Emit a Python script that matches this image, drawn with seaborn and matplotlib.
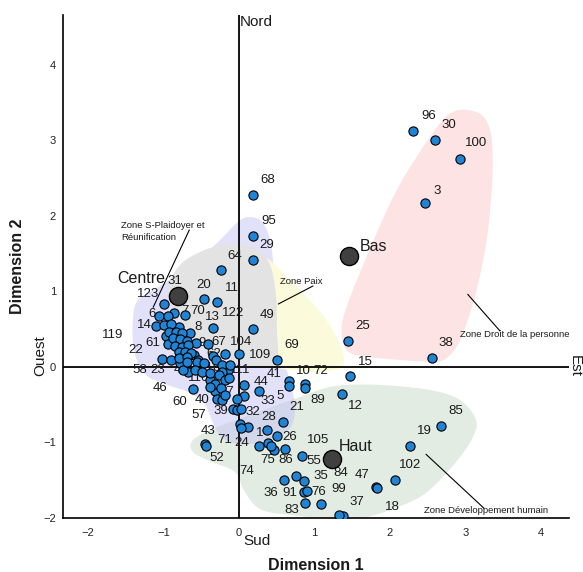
import numpy as np
import pandas as pd
import matplotlib
matplotlib.use("Agg")
import matplotlib.pyplot as plt
import seaborn as sns

# ---------------- data ----------------
point_ids = [96, 30, 100, 3, 25, 38, 15, 68, 95, 29, 64, 20, 11, 49, 122, 31, 123, 7, 70, 6,
             14, 8, 13, 119, 9, 67, 61, 104, 109, 22, 58, 62, 110, 23, 4, 46, 111, 116, 60, 40,
             27, 57, 44, 33, 39, 90, 32, 41, 10, 5, 72, 89, 12, 69, 21, 71, 1, 24, 28, 26,
             43, 52, 75, 74, 86, 105, 36, 55, 35, 91, 76, 83, 99, 37, 47, 18, 102, 19, 85, 84,
             2, 16, 17, 34, 42, 45, 48, 50, 51, 53, 54, 56, 59, 63, 65, 66, 73, 77, 78, 79,
             80, 81, 82, 87, 88, 92, 93, 94, 97, 98, 101, 103, 106, 107, 108, 112, 113, 114, 115]

dim1 = [2.31, 2.59, 2.93, 2.47, 1.45, 2.55, 1.47, 0.18, 0.19, 0.18, -0.24, -0.47, -0.29, 0.18, -0.34, -0.86, -0.99, -0.86, -0.72, -1.06,
        -1.10, -0.80, -0.65, -0.97, -0.57, -0.41, -0.94, -0.19, 0.00, -1.02, -0.90, -0.59, -0.54, -0.78, -0.68, -0.74, -0.14, -0.38, -0.61, -0.32,
        -0.29, -0.23, 0.07, 0.07, -0.08, -0.02, 0.03, 0.26, 0.66, 0.66, 0.87, 0.88, 1.37, 0.51, 0.58, 0.01, 0.12, 0.02, 0.37, 0.50,
        -0.45, -0.44, 0.26, 0.39, 0.47, 0.84, 0.59, 0.76, 0.86, 0.86, 0.90, 0.88, 1.09, 1.38, 1.82, 1.83, 2.06, 2.26, 2.68, 1.25,
        -0.94, -0.99, -0.90, -0.93, -0.83, -0.76, -0.87, -0.78, -0.69, -0.85, -0.76, -0.67, -0.80, -0.72, -0.63, -0.80, -0.69, -0.35, -0.30, -0.69,
        -0.56, -0.46, -0.22, -0.58, -0.49, -0.38, -0.22, -0.26, -0.19, -0.32, -0.13, -0.38, -0.24, -0.19, -0.03, 0.42, 0.61, 1.32, -0.12]

dim2 = [3.13, 3.01, 2.75, 2.17, 0.34, 0.12, -0.12, 2.28, 1.74, 1.42, 1.28, 0.90, 0.86, 0.50, 0.51, 0.92, 0.83, 0.71, 0.69, 0.68,
        0.54, 0.53, 0.45, 0.41, 0.32, 0.31, 0.31, 0.17, 0.17, 0.10, 0.09, 0.16, 0.09, 0.05, -0.06, -0.04, -0.04, -0.17, -0.29, -0.32,
        -0.42, -0.44, -0.24, -0.39, -0.56, -0.57, -0.55, -0.32, -0.18, -0.25, -0.22, -0.28, -0.36, 0.09, -0.73, -0.75, -0.80, -0.81, -0.83, -0.91,
        -1.02, -1.04, -1.05, -1.01, -1.10, -1.18, -1.50, -1.45, -1.51, -1.66, -1.64, -1.80, -1.82, -1.97, -1.59, -1.60, -1.50, -1.04, -0.78, -1.26,
        0.67, 0.56, 0.57, 0.47, 0.47, 0.45, 0.38, 0.37, 0.34, 0.28, 0.27, 0.29, 0.20, 0.20, 0.18, 0.12, 0.13, 0.14, 0.09, 0.06,
        0.06, 0.05, 0.03, -0.04, -0.06, -0.08, -0.06, -0.11, -0.17, -0.22, -0.14, -0.26, -0.28, -0.37, -0.43, -1.05, -1.08, -1.96, 0.02]

centroid_names = ["Centre", "Bas", "Haut"]
centroid_dim1 = [-0.81, 1.46, 1.23]
centroid_dim2 = [0.94, 1.47, -1.22]

x_ticks = [-2, -1, 0, 1, 2, 3, 4]
y_ticks = [-2, -1, 0, 1, 2, 3, 4]

# ---------------- label placement (pixel offsets from each point) ----------------
label_offset_px = {
    96: (15, 15), 30: (14, 15), 100: (16, 16), 3: (12, 12), 25: (14, 15), 38: (14, 15), 15: (15, 14),
    68: (15, 15), 95: (15, 15), 29: (14, 15), 64: (14, 14), 20: (0, 14), 11: (15, 14), 49: (14, 14),
    122: (20, 15), 31: (1, 17), 123: (-16, 10), 7: (11, 2), 70: (13, 4), 6: (-7, 2), 14: (-12, 1),
    8: (19, 0), 13: (22, 16), 119: (-53, 1), 61: (-15, 1), 9: (6, 0), 67: (11, 2), 104: (16, 12),
    109: (21, -1), 22: (-26, 9), 58: (-31, -10), 23: (-22, -7), 62: (19, 1), 110: (12, -8), 4: (-10, 2),
    46: (-23, -18), 111: (12, 0), 116: (-12, 2), 60: (-13, -13), 40: (-13, -9), 27: (10, 7),
    57: (-23, -15), 44: (17, 3), 33: (24, -5), 39: (-12, -2), 90: (-1, -1), 32: (12, -3), 41: (16, 17),
    10: (15, 10), 72: (16, 13), 5: (-9, -10), 89: (12, -12), 12: (13, -12), 69: (14, 15), 21: (14, 15),
    71: (-15, -16), 1: (12, -6), 24: (1, -15), 28: (2, 13), 26: (13, -1), 43: (3, 13), 52: (11, -12),
    75: (9, -14), 74: (-22, -28), 86: (11, -10), 105: (16, 16), 36: (-13, -13), 55: (17, 15),
    35: (17, 5), 91: (-14, -1), 76: (12, -1), 83: (-14, -7), 99: (17, 15), 37: (14, 14), 47: (-14, 12),
    18: (15, -19), 102: (16, 15), 19: (15, 15), 85: (14, 15), 84: (7, -11),
}
centroid_label_style = {"Centre": ((-13, 18), "right"), "Bas": ((11, 10), "left"), "Haut": ((7, 13), "left")}

# ---------------- zone outlines (annotation geometry) ----------------
zone_green = [(-0.609, -0.967), (-0.318, -0.808), (0.146, -0.636), (0.808, -0.397), (1.272, -0.252),
              (1.868, -0.238), (2.530, -0.305), (2.927, -0.437), (3.139, -0.702), (3.099, -0.927),
              (2.927, -1.192), (2.662, -1.497), (2.397, -1.722), (2.000, -1.894), (1.642, -2.000),
              (1.338, -2.040), (0.808, -1.974), (0.305, -1.894), (0.079, -1.656), (-0.053, -1.391),
              (-0.358, -1.258), (-0.609, -1.126)]
zone_blue = [(0.146, 1.987), (0.305, 1.921), (0.411, 1.682), (0.464, 1.285), (0.517, 0.755), (0.570, 0.225),
             (0.675, -0.199), (0.742, -0.503), (0.702, -0.768), (0.543, -0.914), (0.278, -1.007),
             (0.013, -1.020), (-0.225, -0.940), (-0.344, -0.742), (-0.450, -0.503), (-0.649, -0.344),
             (-0.980, -0.225), (-1.245, -0.093), (-1.391, 0.225), (-1.404, 0.649), (-1.338, 0.887),
             (-1.113, 1.033), (-0.715, 1.285), (-0.318, 1.616), (-0.013, 1.921)]
zone_yellow = [(0.305, 1.444), (0.609, 1.219), (0.874, 0.954), (1.139, 0.649), (1.311, 0.358), (1.391, 0.119),
               (1.338, -0.013), (1.046, -0.066), (0.742, -0.040), (0.503, 0.000), (0.305, 0.225), (0.212, 0.887)]
zone_grey = [(0.013, 1.629), (0.252, 1.550), (0.411, 1.351), (0.490, 0.954), (0.503, 0.490), (0.503, 0.066),
             (0.278, 0.013), (-0.040, 0.079), (-0.384, 0.185), (-0.689, 0.490), (-0.887, 0.821),
             (-0.940, 1.060), (-0.781, 1.351), (-0.517, 1.523), (-0.225, 1.616)]
zone_red = [(3.016, 3.404), (3.215, 3.338), (3.325, 3.139), (3.360, 2.785), (3.347, 2.344), (3.281, 1.682),
            (3.148, 1.020), (3.016, 0.583), (2.883, 0.269), (2.706, 0.093), (2.486, 0.070), (1.691, 0.136),
            (1.426, 0.225), (1.360, 0.490), (1.426, 0.799), (1.691, 1.461), (2.044, 2.256), (2.354, 2.785),
            (2.662, 3.228), (2.838, 3.381)]

zone_notes = [
    ("Zone S-Plaidoyer et\nRéunification", (-1.557, 1.792), [(-0.658, 1.815), (-1.137, 0.790)]),
    ("Zone Paix", (0.543, 1.130), [(0.980, 1.073), (0.521, 0.834)]),
    ("Zone Droit de la personne", (2.927, 0.433), [(3.029, 0.963), (3.457, 0.477)]),
    ("Zone Développement humain", (2.450, -1.903), [(2.477, -1.156), (3.245, -1.871)]),
]


def smooth_closed(pts, n=24):
    P = np.asarray(pts, dtype=float)
    k = len(P)
    t = np.linspace(0, 1, n, endpoint=False)[:, None]
    segs = []
    for i in range(k):
        p0, p1, p2, p3 = P[(i - 1) % k], P[i], P[(i + 1) % k], P[(i + 2) % k]
        segs.append(0.5 * (2 * p1 + (-p0 + p2) * t + (2 * p0 - 5 * p1 + 4 * p2 - p3) * t ** 2
                           + (-p0 + 3 * p1 - 3 * p2 + p3) * t ** 3))
    return np.vstack(segs)


# ---------------- figure ----------------
sns.set_style("white")
plt.rcParams["font.family"] = ["Liberation Sans", "DejaVu Sans"]

W, H = 583, 572
fig = plt.figure(figsize=(W / 100, H / 100), dpi=100)
ax = fig.add_axes([63 / W, 1 - 518 / H, 506 / W, 503 / H])
ax.set_xlim(-2.331, 4.371)
ax.set_ylim(-2.0, 4.662)

for pts, fc, alpha, z in [(zone_green, "#e2ece2", 1.0, 0.5),
                          (zone_blue, "#c4c4f4", 0.5, 0.6),
                          (zone_yellow, "#fbfbdc", 1.0, 0.7),
                          (zone_grey, "#e3e3e3", 1.0, 0.8),
                          (zone_red, "#fde3e3", 1.0, 0.9)]:
    c = smooth_closed(pts)
    ax.fill(c[:, 0], c[:, 1], facecolor=fc, edgecolor="none", alpha=alpha, zorder=z)

ax.axhline(0, color="black", lw=1.3, zorder=2)
ax.axvline(0, color="black", lw=1.3, zorder=2)

df = pd.DataFrame({"id": point_ids, "dim1": dim1, "dim2": dim2})
sns.scatterplot(data=df, x="dim1", y="dim2", s=44, color="#1f84d4", edgecolor="black",
                linewidth=0.8, zorder=4, ax=ax, legend=False)

cdf = pd.DataFrame({"name": centroid_names, "dim1": centroid_dim1, "dim2": centroid_dim2})
sns.scatterplot(data=cdf, x="dim1", y="dim2", s=170, color="#404040", edgecolor="black",
                linewidth=1.0, zorder=5, ax=ax, legend=False)

lookup = dict(zip(point_ids, zip(dim1, dim2)))
for pid, off in label_offset_px.items():
    ax.annotate(str(pid), lookup[pid], xytext=off, textcoords="offset pixels",
                ha="center", va="center", fontsize=9.5, color="#1a1a1a", zorder=3)

for name, cx, cy in zip(centroid_names, centroid_dim1, centroid_dim2):
    off, ha = centroid_label_style[name]
    ax.annotate(name, (cx, cy), xytext=off, textcoords="offset pixels",
                ha=ha, va="center", fontsize=11.5, color="#1a1a1a", zorder=6)

for text, (tx, ty), line in zone_notes:
    ax.text(tx, ty, text, fontsize=6.8, ha="left", va="center", color="#1a1a1a",
            linespacing=1.45, zorder=6)
    (x0, y0), (x1, y1) = line
    ax.plot([x0, x1], [y0, y1], color="black", lw=0.8, zorder=6)

# direction labels
ax.text(0.013, 4.57, "Nord", fontsize=11, ha="left", va="center", color="#1a1a1a")
ax.text(0.053, -2.305, "Sud", fontsize=11, ha="left", va="center", color="#1a1a1a", clip_on=False)
ax.text(4.45, 0.16, "Est", fontsize=11, ha="center", va="top", rotation=-90, color="#1a1a1a", clip_on=False)
ax.text(-2.636, 0.146, "Ouest", fontsize=11, ha="center", va="center", rotation=90, color="#1a1a1a", clip_on=False)

ax.set_xticks(x_ticks)
ax.set_yticks(y_ticks)
ax.tick_params(axis="both", length=0, labelsize=8, colors="#222222")
ax.tick_params(axis="y", pad=5)
ax.tick_params(axis="x", pad=7)

for s in ["top", "right"]:
    ax.spines[s].set_visible(False)
for s in ["left", "bottom"]:
    ax.spines[s].set_color("black")
    ax.spines[s].set_linewidth(1.2)

ax.set_xlabel("Dimension 1", fontsize=11.5, fontweight="bold", color="#1a1a1a")
ax.set_ylabel("Dimension 2", fontsize=11.5, fontweight="bold", color="#1a1a1a")
ax.xaxis.set_label_coords(0.5, -(565 - 518) / 503)
ax.xaxis.label.set_verticalalignment("center")
ax.yaxis.set_label_coords((18 - 63) / 506, 0.5)
ax.yaxis.label.set_verticalalignment("center")

fig.savefig("out.png", dpi=100)
